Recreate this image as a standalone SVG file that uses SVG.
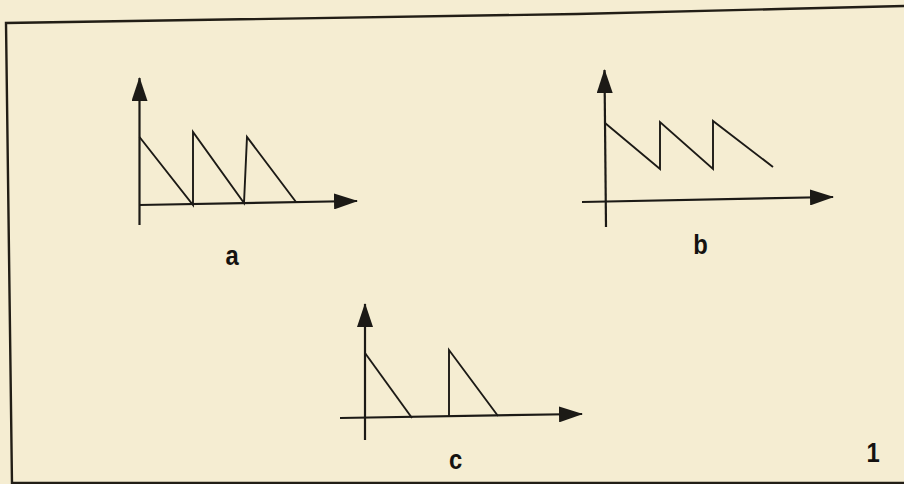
<svg xmlns="http://www.w3.org/2000/svg" width="904" height="484" viewBox="0 0 904 484">
  <defs>
    <marker id="arrow" viewBox="0 0 24 16" refX="23" refY="8" markerWidth="24" markerHeight="16" markerUnits="userSpaceOnUse" orient="auto">
      <path d="M0,0 L24,8 L0,16 Z" fill="#1c1a16"/>
    </marker>
    <style>
      .bg { fill: #f5edd2; }
      .frame { fill: none; stroke: #221e16; stroke-width: 2.4; }
      .axis { fill: none; stroke: #1c1a16; stroke-width: 2.2; marker-end: url(#arrow); }
      .wave { fill: none; stroke: #1c1a16; stroke-width: 1.9; stroke-linejoin: miter; }
      .lbl { font-family: "Liberation Sans", Arial, sans-serif; font-weight: bold; font-size: 28px; fill: #141210; text-anchor: middle; }
    </style>
  </defs>
  <rect class="bg" x="0" y="0" width="904" height="484"/>
  <g id="frame">
    <polyline class="frame" points="12,484 6,23 577,14 780,9 904,6"/>
    <line class="frame" x1="12" y1="483" x2="904" y2="483"/>
  </g>
  <g id="graph-a">
    <path class="axis" d="M139.5,225 L139.5,78"/>
    <path class="axis" d="M139,205 L357,201"/>
    <path class="wave" d="M139.5,137 L193,205 L193,132 L244,203 L247,137 L296,202"/>
    <text class="lbl" transform="translate(232,265) scale(0.85,1)">a</text>
  </g>
  <g id="graph-b">
    <path class="axis" d="M606,227 L604.5,70"/>
    <path class="axis" d="M582,202 L833,197"/>
    <path class="wave" d="M605,123 L660,169 L660,122 L713,169 L713,121 L773,167"/>
    <text class="lbl" transform="translate(700.5,254) scale(0.85,1)">b</text>
  </g>
  <g id="graph-c">
    <path class="axis" d="M365,440 L365,304"/>
    <path class="axis" d="M340,418 L582,414"/>
    <path class="wave" d="M365,353 L412,418"/>
    <path class="wave" d="M449,417 L449,350 L498,416"/>
    <text class="lbl" transform="translate(455.5,469) scale(0.85,1)">c</text>
  </g>
  <g id="figure-number">
    <text class="lbl" transform="translate(873,462) scale(0.85,1)">1</text>
  </g>
  <g id="connectors"></g>
</svg>
